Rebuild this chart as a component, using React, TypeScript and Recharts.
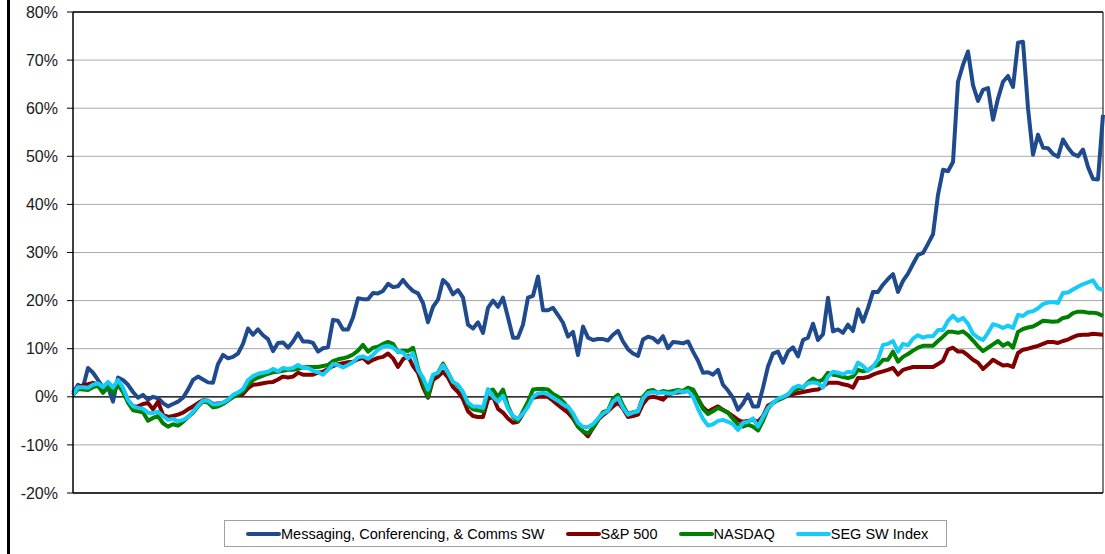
import React from 'react';
import { LineChart, Line, XAxis, YAxis, CartesianGrid, ReferenceLine } from 'recharts';

// Weekly % change (index 0 = start of period)
const messagingSW: number[] = [
  0.8, 2.5, 2, 6, 5, 3.5, 1.9, 2, -1, 4,
  3.5, 2.5, 1, -0.2, 0.4, -0.6, 0, -0.3, -1.3, -2,
  -1.5, -1, -0.2, 1.5, 3.5, 4.2, 3.6, 3, 2.9, 6.8,
  8.7, 8, 8.3, 9, 11, 14.2, 12.9, 14, 12.8, 12,
  9.5, 11.2, 11.3, 10.2, 11.5, 13.2, 11.5, 11.5, 11.2, 9.4,
  10.1, 10.3, 16, 15.8, 14, 14, 16.5, 20.5, 20.3, 20.3,
  21.6, 21.5, 22, 23.5, 22.8, 23, 24.3, 23, 22, 21.5,
  19.5, 15.5, 18.7, 20.2, 24.3, 23.3, 21.3, 22.2, 20.6, 15,
  14.2, 15.5, 13.3, 18.5, 20, 18.7, 20.6, 16.5, 12.3, 12.3,
  15, 20.6, 21, 25, 18, 18, 18.5, 17, 15.4, 12.5,
  13.5, 8.7, 14.6, 12.3, 11.8, 12, 12, 11.7, 12.9, 13.7,
  11.5, 9.9, 9, 8.5, 11.9, 12.5, 12.2, 11.3, 12.6, 10.1,
  11.4, 11.3, 11.1, 11.5, 9.4, 7.5, 5, 5.1, 4.6, 5.6,
  2.5, 1.3, -0.2, -2.7, -1.4, 0.5, -2, -2, 1.9, 6.3,
  9, 9.4, 7.1, 9.4, 10.3, 8.4, 11.8, 12.3, 15.2, 11.8,
  13, 20.6, 13.6, 14, 13.3, 15, 13.7, 18.2, 15.6, 18.5,
  21.8, 21.8, 23.3, 24.5, 25.5, 21.8, 24.1, 25.6, 27.6, 29.5,
  29.9, 31.8, 33.8, 42, 47.2, 46.9, 48.8, 65.5, 69, 71.8,
  64.8, 61.5, 63.8, 64.2, 57.6, 62, 65.5, 66.7, 64.4, 73.6,
  73.8, 60, 50.3, 54.5, 51.8, 51.7, 50.5, 49.9, 53.5, 51.8,
  50.5, 50, 51.4, 47.8, 45.3, 45.2, 58.6,
];

const sp500: number[] = [
  0.4, 2, 2.4, 2.6, 2.9, 2.6, 1.6, 2.4, 1.4, 3,
  1.5, -0.8, -2, -2, -1.5, -1.3, -2.6, -1, -3.7, -4.2,
  -4, -3.7, -3.3, -2.6, -2, -1.3, -0.7, -0.8, -1.5, -1.4,
  -1.3, -0.7, 0, 0.4, 0.6, 1.8, 2.5, 2.6, 2.8, 3,
  3.1, 3.6, 4.2, 4, 4.2, 5, 4.6, 4.6, 4.6, 5,
  5.2, 5.8, 6.4, 6.8, 7, 7.2, 7.3, 7.8, 8.1, 7.1,
  7.7, 8.1, 8.3, 9, 8, 6.2, 7.8, 8.5, 6.4, 5,
  2, -0.2, 3.5, 4.2, 5.2, 4, 2, 1, -0.5, -3,
  -4, -4.2, -4.2, -0.5, 0, -2.5, -3.3, -4.5, -5.4, -5.2,
  -3.5, -1.2, -0.2, 0, 0, 0, -0.8, -1.7, -2.5, -3.3,
  -4.5, -6.2, -7.2, -8.2, -6.5, -4.8, -3.8, -3, -2, -1.2,
  -2.5, -4.2, -4, -3.7, -1.5, -0.2, 0, -0.2, -0.6, 0.4,
  0.8, 0.9, 1, 1.3, 1.4, -0.5, -2.2, -3.1, -2.5, -2,
  -2.7, -3.3, -4, -4.8, -5.2, -5, -4.8, -5.2, -4, -1.8,
  -1.3, -0.6, -0.2, 0.3, 0.6, 0.8, 1, 1.2, 1.4, 1.5,
  2.2, 2.9, 2.9, 2.9, 2.6, 2.4, 1.9, 3.9, 3.9, 4.1,
  4.6, 5, 5.3, 5.6, 6, 4.6, 5.6, 5.9, 6.2, 6.2,
  6.2, 6.2, 6.2, 6.8, 7.5, 9.8, 10.2, 9.4, 9.4, 8.6,
  7.7, 7.1, 5.8, 6.7, 7.7, 7.1, 6.5, 6.6, 6.2, 9.1,
  9.8, 10, 10.3, 10.6, 11, 11.4, 11.4, 11.2, 11.6, 11.9,
  12.4, 12.8, 12.9, 12.9, 13.1, 13, 12.9,
];

const nasdaq: number[] = [
  0.4, 1.6, 1.5, 1.4, 2, 2.3, 0.8, 2, 0.8, 2.5,
  1, -1.2, -2.8, -3, -3.2, -5, -4.4, -4, -5.5, -6.2,
  -5.7, -6, -5.2, -4.2, -3.3, -2, -1, -1.2, -2.2, -2,
  -1.5, -0.8, 0, 0.5, 1.1, 2.5, 3.5, 4, 4.4, 4.8,
  5.1, 5.2, 5.4, 5.6, 5.6, 5.8, 6.1, 6.2, 6.2, 6.2,
  6.4, 6.6, 7.4, 7.8, 8, 8.3, 8.8, 9.6, 10.8, 9.4,
  10.2, 10.4, 11, 11.4, 11, 9.3, 9.6, 9.5, 10.2, 6,
  3, 0, 4.4, 5, 6.9, 5, 3, 2.3, 0.8, -1.6,
  -2.6, -2.8, -3, 1.2, 1.5, 0, 1.5, -2, -4.2, -5,
  -3, -1, 1.5, 1.6, 1.6, 1.5, 0.6, 0, -1, -2.2,
  -4, -6.2, -7.2, -7.6, -6.5, -4.8, -3.2, -2.8, -0.4, 0.4,
  -1.8, -3.6, -3.2, -3, 0, 1.2, 1.4, 0.8, 1.2, 1,
  1.2, 1.4, 1.2, 1.9, 1.5, -0.3, -2.5, -3.6, -3, -2.3,
  -2.8, -3.3, -4.6, -5.8, -6.2, -5.8, -6.2, -7, -5, -2.5,
  -1.2, -0.7, -0.2, 0.5, 1.2, 1.7, 1.9, 3, 3.8, 3.1,
  3.6, 5, 4.6, 4.4, 4.1, 3.9, 4.2, 5.6, 5.3, 5.5,
  6.3, 6.6, 7.7, 7.7, 9.4, 7.3, 8.3, 8.9, 9.6, 10.2,
  10.6, 10.6, 10.6, 11.6, 12.5, 13.5, 13.5, 13.3, 13.6, 12.8,
  11.7, 10.5, 9.5, 10.2, 10.9, 11.6, 10.6, 11.2, 10.2, 13.5,
  14.1, 14.4, 14.6, 15.2, 15.8, 15.7, 15.6, 15.7, 16.4, 16.6,
  17.4, 17.7, 17.7, 17.5, 17.5, 17.3, 16.8,
];

const segSWIndex: number[] = [
  0.4, 2, 2, 1.9, 2.5, 2.8, 2, 3.1, 1.9, 3.5,
  1.9, -0.6, -2, -2.3, -2.5, -3.3, -3.4, -3.1, -4, -4.8,
  -4.6, -5.1, -4.8, -4.2, -3.1, -1.8, -0.8, -0.8, -1.6, -1.5,
  -1.2, -0.6, 0.4, 0.9, 1.6, 3.5, 4.3, 4.8, 5, 5.2,
  5.8, 5.3, 6, 5.8, 6, 6.6, 6, 6, 5.4, 5.1,
  4.6, 5.6, 6.8, 6.6, 6.1, 6.6, 7.2, 8.2, 8.4, 7.9,
  8.7, 9.8, 10.4, 10.6, 10.2, 9.4, 9.2, 8, 9.1, 5.6,
  4, 1.5, 4.6, 5, 6.6, 5, 3.1, 2.5, 1, -1.2,
  -2, -2, -2.3, 1.6, 0, -1, 0.2, -2.5, -4, -4.6,
  -3.5, -2.1, 0, 0.7, 0.8, 0.5, -0.2, -0.8, -1.6, -2,
  -3.4, -5.4, -6.3, -6.3, -5.7, -4.5, -3.5, -2.9, -1, -0.2,
  -2.3, -3.7, -3.3, -3, -0.4, 0.8, 1, 0.8, 0.9, 0.7,
  0.7, 1.2, 1, 1.2, 0, -2.5, -4.6, -6, -5.7, -5,
  -4.8, -5.2, -5.7, -6.9, -5.4, -5.2, -4.5, -6.2, -4.2, -2.3,
  -1.3, -0.4, 0, 0.5, 1.8, 2.3, 2, 2.8, 3, 2.8,
  1.9, 4.2, 5.2, 5, 4.7, 5.2, 5, 7.1, 6.4, 5.4,
  6.2, 7.8, 10.8, 11, 11.6, 9.4, 11, 10.7, 12.1, 12.8,
  12.3, 12.6, 12.6, 13.9, 13.9, 15.8, 16.9, 15.8, 16.4, 15.2,
  13.1, 12.3, 11.8, 13.3, 15.1, 14.8, 14.3, 14.8, 14.3, 17,
  16.8, 17.6, 17.8, 18.4, 19.3, 19.6, 19.7, 19.5, 21.6, 21.7,
  22.3, 22.9, 23.4, 23.8, 24.2, 22.6, 22.2,
];

const yTicks: number[] = [-20, -10, 0, 10, 20, 30, 40, 50, 60, 70, 80];

const seriesNames = {
  messaging: 'Messaging, Conferencing, & Comms SW',
  sp: 'S&P 500',
  nasdaq: 'NASDAQ',
  seg: 'SEG SW Index',
};

const colors = {
  messaging: '#1f4a8d',
  sp: '#800000',
  nasdaq: '#008000',
  seg: '#15ccf9',
};

const data = messagingSW.map((v, i) => ({
  week: i,
  messaging: v,
  sp: sp500[i],
  nasdaq: nasdaq[i],
  seg: segSWIndex[i],
}));

const lastWeek = data.length - 1;

const legendItems: { key: keyof typeof colors }[] = [
  { key: 'messaging' },
  { key: 'sp' },
  { key: 'nasdaq' },
  { key: 'seg' },
];

export default function App() {
  const font = '"Liberation Sans", Arial, sans-serif';
  return (
    <div
      style={{
        position: 'absolute',
        left: 0,
        top: 0,
        width: 1105,
        height: 554,
        background: '#ffffff',
        overflow: 'hidden',
        fontFamily: font,
      }}
    >
      <div
        style={{
          position: 'absolute',
          left: 7,
          top: 0,
          width: 3,
          height: 554,
          background: '#000',
        }}
      />
      <LineChart
        width={1105}
        height={554}
        data={data}
        margin={{ top: 12, right: 2, bottom: 61, left: 0 }}
        style={{ position: 'absolute', left: 0, top: 0 }}
      >
        <CartesianGrid vertical={false} stroke="#a8a8a8" strokeWidth={1} />
        <XAxis dataKey="week" type="number" domain={[0, lastWeek]} hide />
        <YAxis
          width={73}
          domain={[-20, 80]}
          ticks={yTicks}
          interval={0}
          tickFormatter={(v: number) => `${v}%`}
          tick={{ fill: '#1a1a1a', fontSize: 16, fontFamily: font }}
          tickSize={6}
          tickMargin={9}
          axisLine={{ stroke: '#000', strokeWidth: 1.5 }}
          tickLine={{ stroke: '#000' }}
          allowDataOverflow
        />
        <ReferenceLine y={80} stroke="#000" strokeWidth={1.5} />
        <ReferenceLine y={-20} stroke="#000" strokeWidth={1.5} />
        <ReferenceLine y={0} stroke="#000" strokeWidth={1.2} />
        <ReferenceLine x={lastWeek} stroke="#000" strokeWidth={1} />
        <Line
          dataKey="messaging"
          name={seriesNames.messaging}
          stroke={colors.messaging}
          strokeWidth={4}
          dot={false}
          isAnimationActive={false}
          strokeLinejoin="round"
        />
        <Line
          dataKey="sp"
          name={seriesNames.sp}
          stroke={colors.sp}
          strokeWidth={4}
          dot={false}
          isAnimationActive={false}
          strokeLinejoin="round"
        />
        <Line
          dataKey="nasdaq"
          name={seriesNames.nasdaq}
          stroke={colors.nasdaq}
          strokeWidth={4}
          dot={false}
          isAnimationActive={false}
          strokeLinejoin="round"
        />
        <Line
          dataKey="seg"
          name={seriesNames.seg}
          stroke={colors.seg}
          strokeWidth={4}
          dot={false}
          isAnimationActive={false}
          strokeLinejoin="round"
        />
      </LineChart>
      <div
        style={{
          position: 'absolute',
          left: 224,
          top: 520,
          width: 723,
          height: 27,
          border: '1px solid #a0a0a0',
          boxSizing: 'border-box',
          display: 'flex',
          alignItems: 'center',
          paddingLeft: 21,
          gap: 21,
          fontSize: 14.5,
          color: '#000',
          whiteSpace: 'nowrap',
        }}
      >
        {legendItems.map((it) => (
          <div key={it.key} style={{ display: 'flex', alignItems: 'center' }}>
            <div
              style={{
                width: 35,
                height: 4,
                borderRadius: 2,
                background: colors[it.key],
              }}
            />
            <span>{seriesNames[it.key]}</span>
          </div>
        ))}
      </div>
    </div>
  );
}
